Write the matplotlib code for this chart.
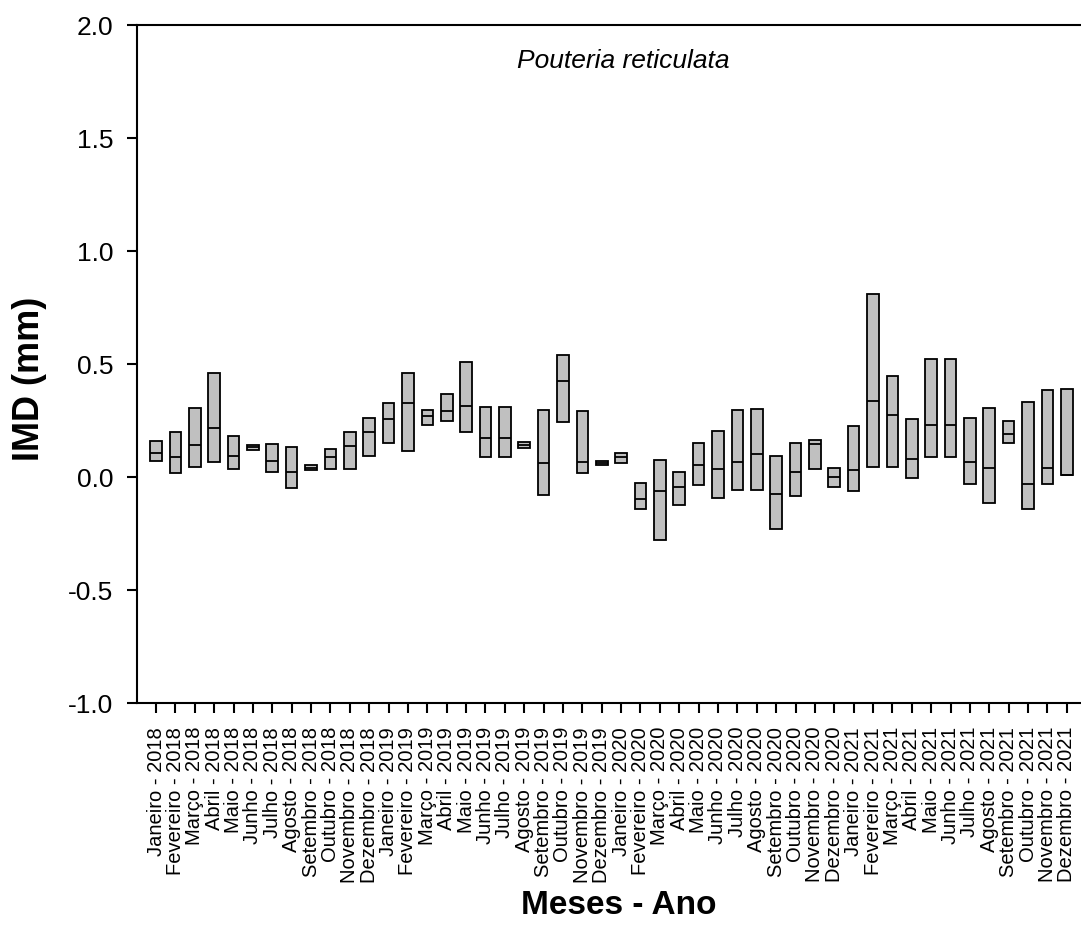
import matplotlib
matplotlib.use("Agg")
import matplotlib.pyplot as plt
import numpy as np

plt.rcParams['font.family'] = ['Liberation Sans', 'DejaVu Sans']

months = ["Janeiro", "Fevereiro", "Março", "Abril", "Maio", "Junho",
          "Julho", "Agosto", "Setembro", "Outubro", "Novembro", "Dezembro"]
years = [2018, 2019, 2020, 2021]
labels = [f"{m} - {y}" for y in years for m in months]

# Upper edge, median and lower edge of each monthly box (mm)
upper = [0.159, 0.200, 0.305, 0.462, 0.184, 0.144, 0.147, 0.136, 0.054, 0.127, 0.200, 0.264,
         0.328, 0.462, 0.297, 0.369, 0.509, 0.313, 0.313, 0.158, 0.298, 0.540, 0.295, 0.074,
         0.106, -0.024, 0.078, 0.022, 0.152, 0.206, 0.298, 0.304, 0.096, 0.153, 0.165, 0.040,
         0.227, 0.811, 0.448, 0.259, 0.525, 0.525, 0.261, 0.305, 0.251, 0.335, 0.385, 0.391]
median = [0.106, 0.090, 0.144, 0.218, 0.094, 0.133, 0.072, 0.022, 0.043, 0.091, 0.139, 0.199,
          0.259, 0.329, 0.270, 0.295, 0.317, 0.174, 0.174, 0.144, 0.065, 0.426, 0.066, 0.063,
          0.090, -0.095, -0.059, -0.044, 0.054, 0.035, 0.068, 0.103, -0.074, 0.022, 0.147, 0.000,
          0.032, 0.339, 0.277, 0.080, 0.233, 0.233, 0.068, 0.040, 0.192, -0.031, 0.041, 0.009]
lower = [0.074, 0.020, 0.044, 0.066, 0.038, 0.121, 0.023, -0.049, 0.031, 0.035, 0.038, 0.096,
         0.152, 0.115, 0.230, 0.249, 0.199, 0.090, 0.090, 0.128, -0.078, 0.245, 0.018, 0.053,
         0.065, -0.139, -0.276, -0.123, -0.035, -0.090, -0.056, -0.056, -0.230, -0.083, 0.037, -0.041,
         -0.059, 0.047, 0.047, -0.002, 0.089, 0.089, -0.031, -0.115, 0.150, -0.142, -0.031, 0.009]

fig = plt.figure(figsize=(10.81, 9.43), dpi=100)
ax = fig.add_axes([0.1264, 0.2542, 0.8784, 0.7188])

x = np.arange(len(labels))
upper = np.array(upper)
lower = np.array(lower)
median = np.array(median)
w = 0.6

ax.bar(x, upper - lower, bottom=lower, width=w, color="#C0C0C0",
       edgecolor="black", linewidth=1.3, zorder=2)
ax.hlines(median, x - w / 2, x + w / 2, color="black", linewidth=1.3, zorder=3)

ax.set_xlim(-1, 48)
ax.set_ylim(-1.0, 2.0)
ax.set_yticks([-1.0, -0.5, 0.0, 0.5, 1.0, 1.5, 2.0])
ax.set_yticklabels(["-1.0", "-0.5", "0.0", "0.5", "1.0", "1.5", "2.0"])
ax.set_xticks(x)
ax.set_xticklabels(labels, rotation=90, fontsize=14.5)

for s in ["left", "bottom", "top"]:
    ax.spines[s].set_linewidth(1.5)
ax.spines["right"].set_visible(False)
ax.tick_params(axis="both", direction="out", length=7, width=1.5)
ax.tick_params(axis="y", labelsize=19, pad=10)
ax.tick_params(axis="x", pad=10)

ax.text(0.512, 0.947, "Pouteria reticulata", transform=ax.transAxes,
        ha="center", va="center", fontsize=19, style="italic")

fig.text(30 / 1081, 1 - 379 / 943, "IMD (mm)", rotation=90, ha="center", va="center",
         fontsize=26, fontweight="bold")
fig.text(619 / 1081, 1 - 905 / 943, "Meses - Ano", ha="center", va="center",
         fontsize=24, fontweight="bold")

fig.savefig("out.png", dpi=100)
